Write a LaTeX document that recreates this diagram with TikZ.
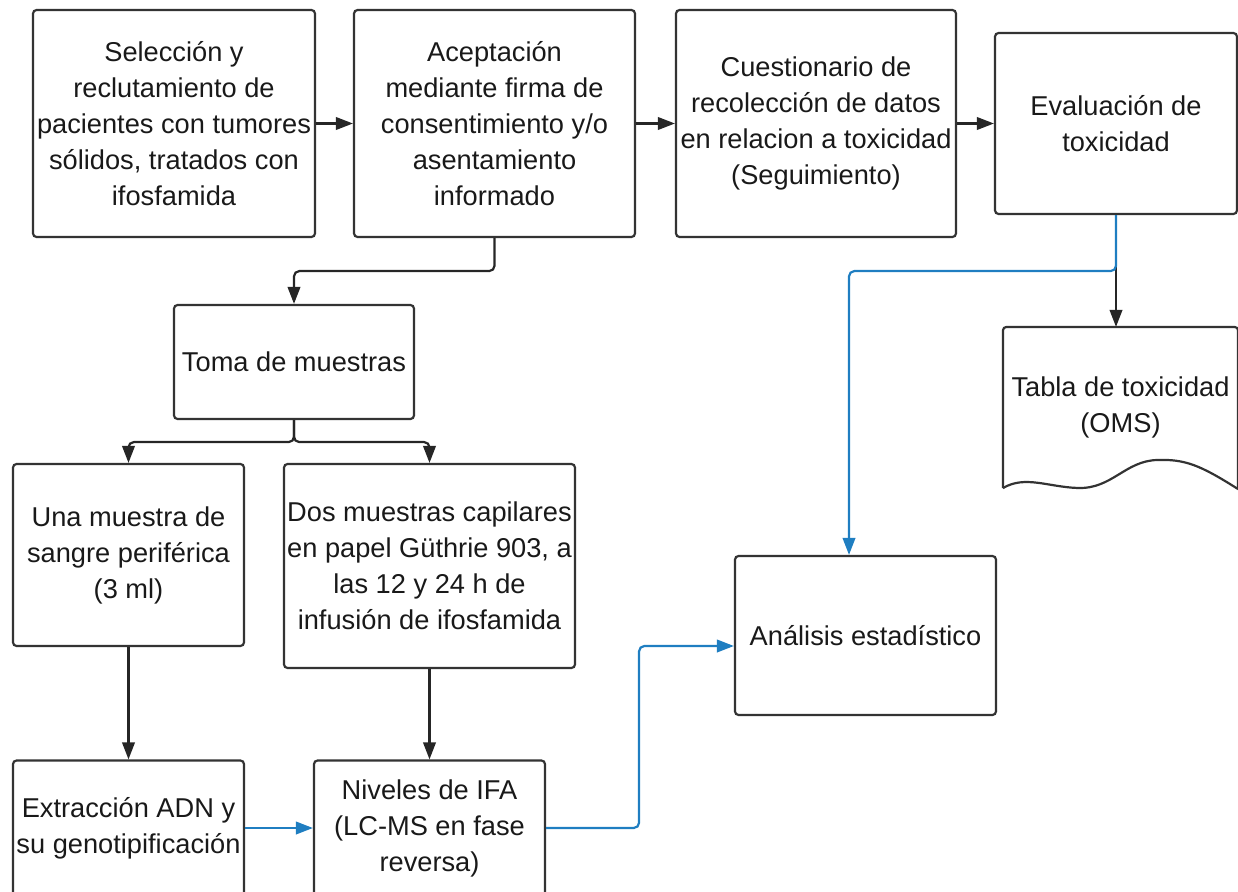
\documentclass[tikz,border=0pt]{standalone}
\usepackage{fontspec}
\setmainfont{Liberation Sans}
\usetikzlibrary{arrows.meta,positioning}

\definecolor{linegray}{HTML}{333333}
\definecolor{flowblue}{HTML}{1F7EC1}

\tikzset{
  proc/.style={draw=linegray, line width=1.25pt, rounded corners=2pt, align=center,
    inner sep=0pt, text=black!90, font=\fontsize{15.5}{20.5}\selectfont},
  flow/.style={->, line width=1.25pt, draw=black!85, rounded corners=3pt},
  blueflow/.style={flow, draw=flowblue}
}

\begin{document}
\begin{tikzpicture}[x=0.02cm, y=-0.02cm, >={Triangle[length=0.34cm, width=0.25cm]}]
        \useasboundingbox (0,0) rectangle (1238,892);
        \clip (0,0) rectangle (1238,892);
        % Define steps
        \node[proc, minimum width=5.64cm, minimum height=4.54cm] (Sel) at (174,123.5)
          {Selección y\\reclutamiento de\\pacientes con tumores\\sólidos, tratados con\\ifosfamida};
        \node[proc, minimum width=5.62cm, minimum height=4.54cm] (Acep) at (494.5,123.5)
          {Aceptación\\mediante firma de\\consentimiento y/o\\asentamiento\\informado};
        \node[proc, minimum width=5.6cm, minimum height=4.54cm] (Cuest) at (816,123.5)
          {Cuestionario de\\recolección de datos\\en relacion a toxicidad\\(Seguimiento)};
        \node[proc, minimum width=4.84cm, minimum height=3.62cm] (Eval) at (1116,123.5)
          {Evaluación de\\toxicidad};
        \node[proc, minimum width=4.8cm, minimum height=2.28cm] (Toma) at (294,362)
          {Toma de muestras};
        \node[proc, draw=none, minimum width=4.66cm, minimum height=3.18cm] (Tabla) at (1120.5,407.5)
          {Tabla de toxicidad\\(OMS)};
        \node[proc, minimum width=4.62cm, minimum height=3.64cm] (Sangre) at (128.5,555)
          {Una muestra de\\sangre periférica\\(3 ml)};
        \node[proc, minimum width=5.82cm, minimum height=4.08cm] (Capilar) at (429.5,566)
          {Dos muestras capilares\\en papel Güthrie 903, a\\las 12 y 24 h de\\infusión de ifosfamida};
        \node[proc, minimum width=5.22cm, minimum height=3.18cm] (Anal) at (865.5,635.5)
          {Análisis estadístico};
        \node[proc, minimum width=4.62cm, minimum height=2.7cm] (ADN) at (128.5,828)
          {Extracción ADN y\\su genotipificación};
        \node[proc, minimum width=4.62cm, minimum height=2.7cm] (IFA) at (429.5,828)
          {Niveles de IFA\\(LC-MS en fase\\reversa)};

        % Document shape
        \draw[draw=linegray, line width=1.25pt, rounded corners=2pt]
          (Tabla.south west) -- (Tabla.north west) -- (Tabla.north east) -- ([yshift=-0.02cm]Tabla.south east);
        \draw[draw=linegray, line width=1.25pt]
          ([yshift=-0.02cm]Tabla.south east) .. controls (1200,465) and (1185,459) .. (1157,460)
          .. controls (1125,461) and (1112,489) .. (1078,488)
          .. controls (1048,487) and (1025,475) .. (Tabla.south west);

        % Define transitions
        \draw[flow] (Sel) -- (Acep);
        \draw[flow] (Acep) -- (Cuest);
        \draw[flow] (Cuest) -- (Eval);
        \draw[flow] (Acep.south) -- ++(0,33) -| (Toma.north);
        \draw[flow] (Toma.south) -- ++(0,22) -| (Sangre.north);
        \draw[flow] (Toma.south) -- ++(0,22) -| (Capilar.north);
        \draw[flow] (Eval.south) -- (Eval.south |- Tabla.north);
        \draw[flow] (Sangre) -- (ADN);
        \draw[flow] (Capilar) -- (IFA);
        % Blue transitions
        \draw[blueflow] (Eval.south) -- ++(0,56) -| ([xshift=-0.33cm]Anal.north);
        \draw[blueflow] (ADN) -- (IFA);
        \draw[blueflow] (IFA.east) -- ++(93,0) |- ([yshift=-0.21cm]Anal.west);
\end{tikzpicture}
\end{document}
